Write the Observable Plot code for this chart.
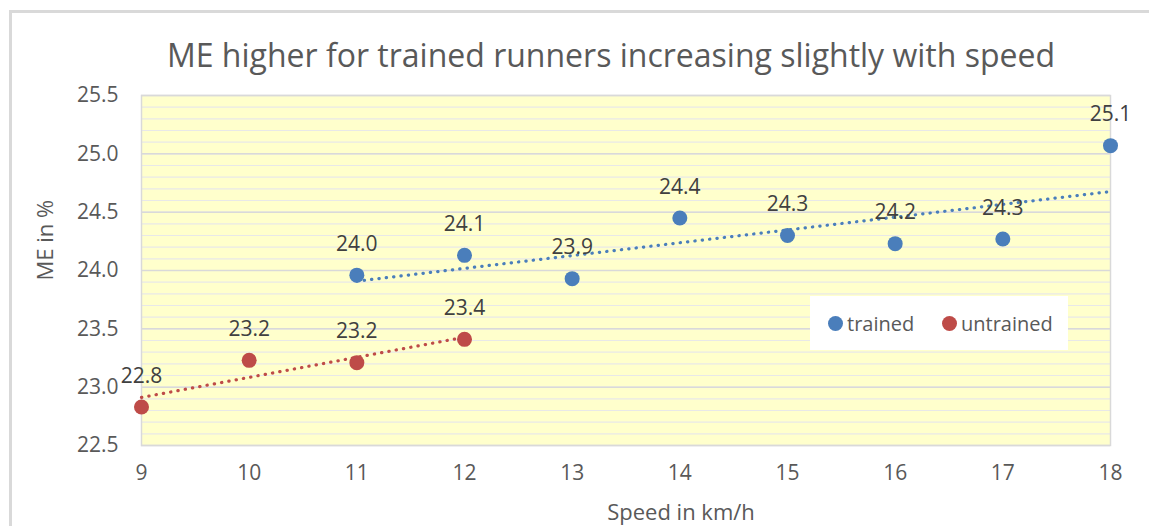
<!DOCTYPE html>
<html><head><meta charset="utf-8">
<script src="https://cdn.jsdelivr.net/npm/d3@7"></script>
<script src="https://cdn.jsdelivr.net/npm/@observablehq/plot@0.6"></script>
<style>
body{margin:0;background:#fff;}
#wrap{position:relative;width:1149px;height:526px;overflow:hidden;font-family:"Open Sans",Lato,sans-serif;}
#border{position:absolute;left:9px;top:10px;width:1300px;height:700px;border-left:3px solid #d9d9d9;border-top:3px solid #d9d9d9;}
#chart{position:absolute;left:0;top:0;}
#title{position:absolute;left:0;width:1222px;top:39px;text-align:center;font-size:32px;line-height:32px;color:#595959;white-space:nowrap;}
#legend{position:absolute;left:810px;top:296px;width:258px;height:54px;background:#fff;font-size:20px;color:#595959;}
.li{position:absolute;top:0;height:54px;display:flex;align-items:center;}
.dot{width:15px;height:15px;border-radius:50%;margin-right:4px;}
</style></head>
<body>
<div id="wrap">
  <div id="border"></div>
  <div id="chart"></div>
  <div id="title">ME higher for trained runners increasing slightly with speed</div>
  <div id="legend"></div>
</div>
<script>
const trainedSpeed = [11, 12, 13, 14, 15, 16, 17, 18];
const trainedME = [23.96, 24.13, 23.93, 24.45, 24.30, 24.23, 24.27, 25.07];
const untrainedSpeed = [9, 10, 11, 12];
const untrainedME = [22.83, 23.23, 23.21, 23.41];
const seriesNames = ["trained", "untrained"];
const seriesColors = ["#4a7ebb", "#be4b48"];
const xTicks = [9, 10, 11, 12, 13, 14, 15, 16, 17, 18];
const yTicks = [22.5, 23.0, 23.5, 24.0, 24.5, 25.0, 25.5];
const yMinor = d3.range(0, 31).map(i => +(22.5 + i * 0.1).toFixed(1));

const data = [
  ...trainedSpeed.map((s, i) => ({speed: s, me: trainedME[i], group: seriesNames[0]})),
  ...untrainedSpeed.map((s, i) => ({speed: s, me: untrainedME[i], group: seriesNames[1]}))
];

const font = "'Open Sans', Lato, sans-serif";
const color = {domain: seriesNames, range: seriesColors};

const chart = Plot.plot({
  width: 1149,
  height: 526,
  marginLeft: 141,
  marginRight: 39,
  marginTop: 95,
  marginBottom: 81,
  style: {fontFamily: font, fontSize: "21px", color: "#595959", background: "transparent", overflow: "visible"},
  x: {domain: [9, 18], ticks: xTicks, tickSize: 0, tickPadding: 20, tickFormat: d => String(d), label: null},
  y: {domain: [22.5, 25.5], ticks: yTicks, tickSize: 0, tickPadding: 23, tickFormat: d => d.toFixed(1), label: null},
  color,
  marks: [
    Plot.frame({fill: "#ffffcc"}),
    Plot.ruleY(yMinor, {stroke: "#e8e8e8", strokeWidth: 1.2}),
    Plot.ruleY(yTicks, {stroke: "#d9d9d9", strokeWidth: 1.5}),
    Plot.frame({stroke: "#d9d9d9", strokeWidth: 1.5}),
    Plot.linearRegressionY(data, {x: "speed", y: "me", stroke: "group", ci: 0, strokeWidth: 3.2, strokeDasharray: "0.3 7.1", strokeLinecap: "round"}),
    Plot.dot(data, {x: "speed", y: "me", fill: "group", r: 7.5}),
    Plot.text(data, {x: "speed", y: "me", text: d => d.me.toFixed(1), dy: -31, lineAnchor: "middle", fill: "#404040", fontSize: 21}),
    Plot.text(["ME in %"], {frameAnchor: "left", text: d => d, rotate: -90, dx: -96, dy: 10, fontSize: 22, fill: "#595959", lineAnchor: "middle"}),
    Plot.text(["Speed in km/h"], {frameAnchor: "bottom", text: d => d, dx: 55, dy: 67, fontSize: 22, fill: "#595959", lineAnchor: "middle"})
  ]
});
document.getElementById("chart").appendChild(chart);

const legend = document.getElementById("legend");
const legendPos = [18, 132];
seriesNames.forEach((n, i) => {
  const item = document.createElement("div");
  item.className = "li";
  item.style.left = legendPos[i] + "px";
  item.innerHTML = `<span class="dot" style="background:${seriesColors[i]}"></span><span>${n}</span>`;
  legend.appendChild(item);
});
</script>
</body></html>
